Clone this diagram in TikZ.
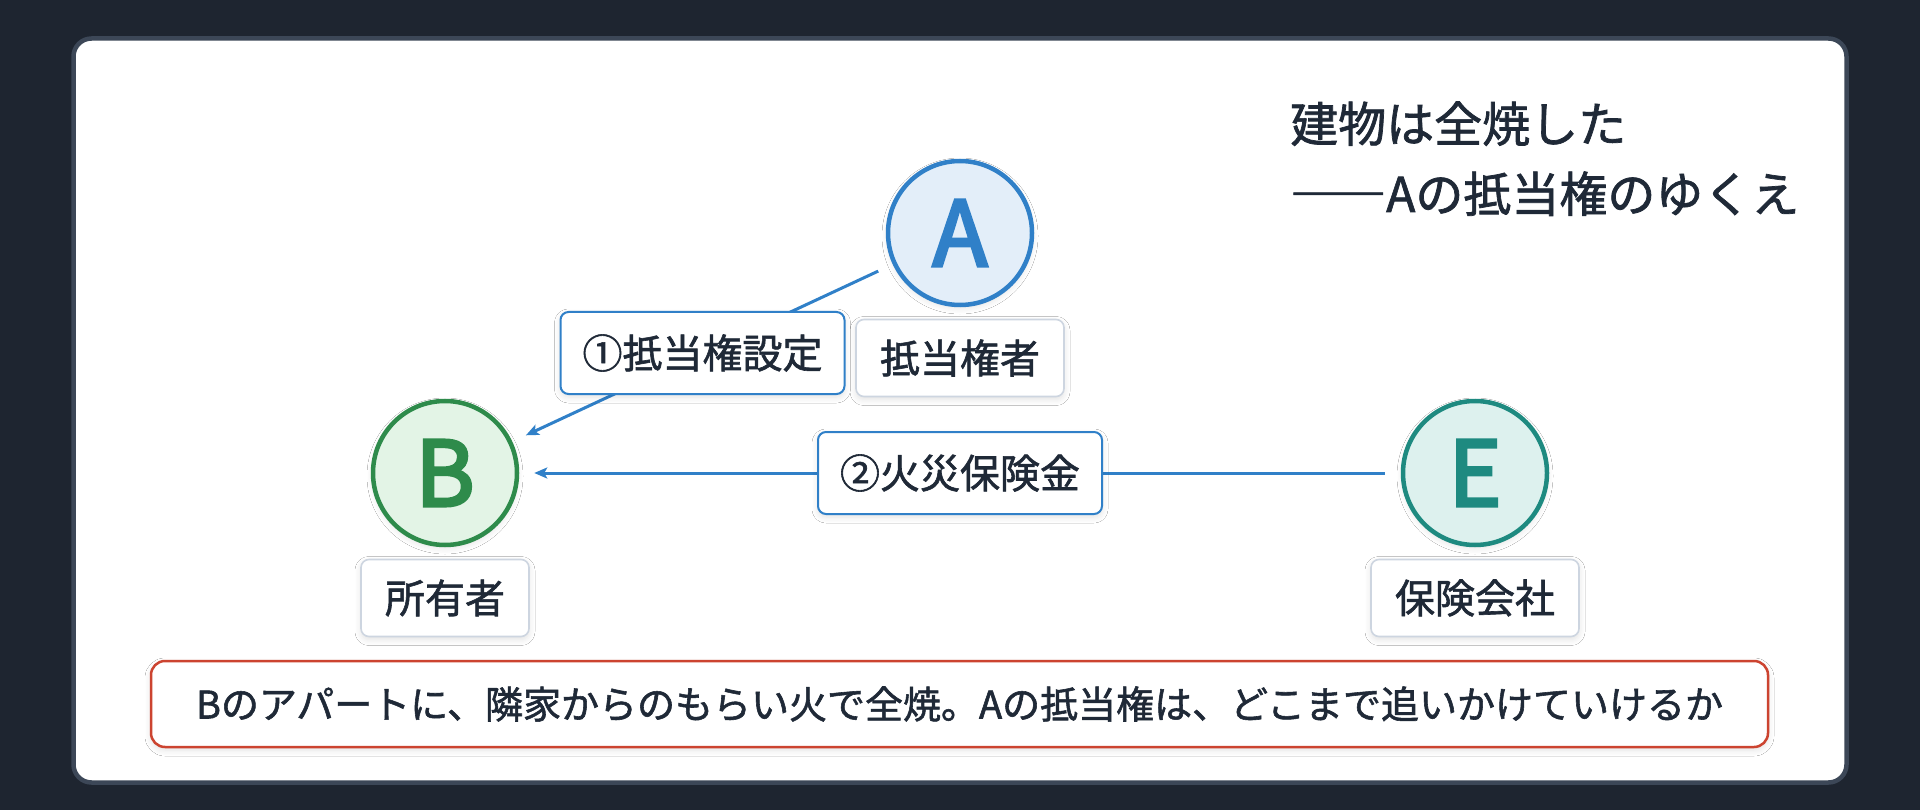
\documentclass[tikz,border=0pt]{standalone}
\usepackage{fontspec}
\setmainfont{Noto Sans CJK JP}[FakeBold=1.5]
\newfontfamily\letterfont{Noto Sans CJK JP}[FakeBold=3.5]
\usetikzlibrary{arrows.meta,shadows.blur}
\definecolor{bg}{HTML}{1E2530}
\definecolor{cardline}{HTML}{3C4757}
\definecolor{ink}{HTML}{1F2937}
\definecolor{blueC}{HTML}{3080C8}
\definecolor{blueF}{HTML}{E3EEF9}
\definecolor{greenC}{HTML}{2E8B4B}
\definecolor{greenF}{HTML}{E3F4E6}
\definecolor{tealC}{HTML}{1E8A80}
\definecolor{tealF}{HTML}{DDF1EE}
\definecolor{redC}{HTML}{CC4430}
\definecolor{grayB}{HTML}{CDD5E0}
\tikzset{
  softshadow/.style={blur shadow={shadow xshift=0pt, shadow yshift=-3pt, shadow blur radius=6pt, shadow blur steps=6, shadow opacity=12}},
  circ/.style={circle, minimum size=144pt, inner sep=0pt, line width=4.5pt, softshadow,
    font=\fontsize{90}{90}\letterfont},
  bluebox/.style={draw=blueC, fill=white, line width=2pt, rounded corners=8pt, text=ink,
    inner xsep=22pt, inner ysep=0pt, minimum height=82pt, font=\fontsize{40}{40}\selectfont, softshadow},
  graybox/.style={draw=grayB, fill=white, line width=1.6pt, rounded corners=8pt, text=ink,
    inner xsep=24pt, inner ysep=0pt, minimum height=77pt, font=\fontsize{40}{40}\selectfont, softshadow},
  conn/.style={draw=blueC, line width=3pt, -{Stealth[length=13pt,width=11pt,inset=3pt]},
    shorten <=16pt, shorten >=15pt},
  titletext/.style={anchor=base west, text=ink, inner sep=0pt, font=\fontsize{48}{48}\selectfont}
}
\begin{document}
\begin{tikzpicture}[x=1pt,y=-1pt]
\fill[bg] (0,0) rectangle (1920,810);
\draw[fill=white, draw=cardline, line width=4.5pt, rounded corners=18pt] (73.5,38.5) rectangle (1846.5,782.5);

% title
\node[titletext] (title1) at (1290,142) {建物は全焼した};
\node[titletext] (title2) at (1290,212) {――Aの抵当権のゆくえ};

% parties
\node[circ, draw=blueC, fill=blueF, text=blueC] (A) at (960,233) {A};
\node[circ, draw=greenC, fill=greenF, text=greenC] (B) at (445,473) {B};
\node[circ, draw=tealC, fill=tealF, text=tealC] (E) at (1475,473) {E};

\node[graybox] (Alab) at (960,358) {抵当権者};
\node[graybox] (Blab) at (445,598) {所有者};
\node[graybox] (Elab) at (1475,598) {保険会社};

% connectors
\draw[conn] (A) -- (B) node[bluebox, midway] (l1) {①抵当権設定};
\draw[conn] (E) -- (B) node[bluebox, midway] (l2) {②火災保険金};

% question
\node[draw=redC, fill=white, line width=2.5pt, rounded corners=14pt, minimum width=1617pt, minimum height=86pt,
  inner sep=0pt, text=ink, font=\fontsize{38}{38}\selectfont, softshadow] (q) at (959.5,704)
  {Bのアパートに、隣家からのもらい火で全焼。Aの抵当権は、どこまで追いかけていけるか};
\end{tikzpicture}
\end{document}
